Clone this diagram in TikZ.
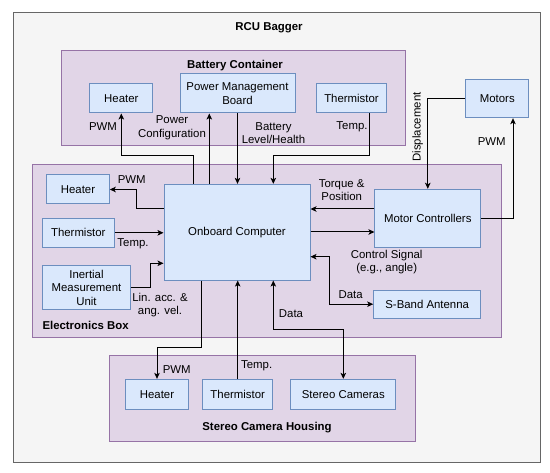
\documentclass[tikz,border=0pt]{standalone}
\usepackage{fontspec}
\setmainfont{Liberation Sans}
\usetikzlibrary{arrows.meta}
\definecolor{outerfill}{HTML}{F5F5F5}
\definecolor{outerdraw}{HTML}{666666}
\definecolor{contfill}{HTML}{E1D5E7}
\definecolor{contdraw}{HTML}{9673A6}
\definecolor{boxfill}{HTML}{DAE8FC}
\definecolor{boxdraw}{HTML}{6C8EBF}
\begin{document}
\begin{tikzpicture}[x=1pt,y=-1pt,
  every node/.style={font=\fontsize{11.4}{13.6}\selectfont},
  outerbox/.style={draw=outerdraw,fill=outerfill,line width=1pt,inner sep=0pt},
  contbox/.style={draw=contdraw,fill=contfill,line width=1pt,inner sep=0pt},
  bluebox/.style={draw=boxdraw,fill=boxfill,line width=1pt,inner sep=0pt,align=center},
  lbl/.style={inner sep=0pt,align=center},
  ttl/.style={inner sep=0pt,font=\fontsize{11.4}{13.6}\selectfont\bfseries},
  conn/.style={line width=1pt,draw=black},
  arr/.style={conn,-{Stealth[length=6pt,width=5.5pt,inset=1.5pt]}},
  darr/.style={conn,{Stealth[length=6pt,width=5.5pt,inset=1.5pt]}-{Stealth[length=6pt,width=5.5pt,inset=1.5pt]}}]
\useasboundingbox (0,0) rectangle (550,473);

% containers
\node[outerbox,minimum width=526.7pt,minimum height=449.6pt] (outer) at (276.65,237.5) {};
\node[ttl] (tRCU) at (269,27.5) {RCU Bagger};
\node[contbox,minimum width=343.7pt,minimum height=95.3pt] (battery) at (233.15,98.35) {};
\node[ttl] (tBat) at (235,65.5) {Battery Container};
\node[contbox,minimum width=469.4pt,minimum height=172.3pt] (ebox) at (267,251.15) {};
\node[ttl,anchor=west] (tEbox) at (42.3,325.7) {Electronics Box};
\node[contbox,minimum width=306.4pt,minimum height=86pt] (shouse) at (262.5,398.7) {};
\node[ttl] (tSh) at (267,427.3) {Stereo Camera Housing};

% battery container boxes
\node[bluebox,minimum width=62.7pt,minimum height=29pt] (hb) at (121.3,98.5) {Heater};
\node[bluebox,minimum width=115pt,minimum height=39pt] (pmb) at (237.5,93.5) {Power Management\\Board};
\node[bluebox,minimum width=70.4pt,minimum height=29pt] (thb) at (351.5,98.5) {Thermistor};
\node[bluebox,minimum width=63.3pt,minimum height=38.4pt] (mot) at (497.3,98.5) {Motors};

% electronics box
\node[bluebox,minimum width=62.6pt,minimum height=29pt] (he) at (78,189.5) {Heater};
\node[bluebox,minimum width=146pt,minimum height=95.7pt] (OC) at (237,232.2) {Onboard Computer};
\node[bluebox,minimum width=72pt,minimum height=29pt] (te) at (78.3,232.8) {Thermistor};
\node[bluebox,minimum width=88.4pt,minimum height=44.3pt] (imu) at (86.5,287.8) {Inertial\\Measurement\\Unit};
\node[bluebox,minimum width=105.7pt,minimum height=58pt] (mc) at (427.8,218.3) {Motor Controllers};
\node[bluebox,minimum width=107pt,minimum height=28.3pt] (sb) at (427.2,304.2) {S-Band Antenna};

% stereo camera housing
\node[bluebox,minimum width=62.6pt,minimum height=29.7pt] (hs) at (157,394.2) {Heater};
\node[bluebox,minimum width=70pt,minimum height=29.7pt] (ts) at (237.7,394.2) {Thermistor};
\node[bluebox,minimum width=105.3pt,minimum height=29.7pt] (sc) at (343.3,394.2) {Stereo Cameras};

% connectors
\draw[arr] (OC.north -| 193.3,0) |- (hb.south |- 0,155.7) -- (hb.south);
\draw[arr] (OC.north -| 209.3,0) -- (pmb.south -| 209.3,0);
\draw[arr] (pmb.south) -- (OC.north -| pmb.south);
\draw[arr] (thb.south -| 369.3,0) -- (369.3,155.7) -- (273.3,155.7) -- (OC.north -| 273.3,0);
\draw[arr] (mot.west) -| (mc.north);
\draw[arr] (mc.east) -| (mot.south -| 513,0);
\draw[arr] (OC.west |- 0,208.3) -- (136.7,208.3) |- (he.east);
\draw[arr] (te.east) -- (OC.west |- te.east);
\draw[arr] (imu.east) -- (150,287.8) |- (OC.west |- 0,263.3);
\draw[arr] (mc.west |- 0,209) -- (OC.east |- 0,209);
\draw[arr] (OC.east |- 0,232) -- (mc.west |- 0,232);
\draw[darr] (OC.east |- 0,256.7) -- (329.3,256.7) |- (sb.west);
\draw[arr] (OC.south -| 201,0) -- (201,347.3) -| (hs.north);
\draw[arr] (ts.north) -- (OC.south -| ts.north);
\draw[darr] (OC.south -| 273.3,0) -- (273.3,330) -| (sc.north);

% labels
\node[lbl] (l1) at (103,127) {PWM};
\node[lbl] (l2) at (172,128) {Power\\Configuration};
\node[lbl] (l3) at (273.5,133) {Battery\\Level/Health};
\node[lbl] (l4) at (352,127) {Temp.};
\node[lbl,rotate=90] (l5) at (417.7,127) {Displacement};
\node[lbl] (l6) at (491.7,141.7) {PWM};
\node[lbl] (l7) at (131.7,180) {PWM};
\node[lbl] (l8) at (133,243.3) {Temp.};
\node[lbl] (l9) at (160,305) {Lin. acc. \&\\ang. vel.};
\node[lbl] (l10) at (341.7,190) {Torque \&\\Position};
\node[lbl] (l11) at (386.7,262) {Control Signal\\(e.g., angle)};
\node[lbl] (l12) at (350.7,295) {Data};
\node[lbl] (l13) at (291,314) {Data};
\node[lbl] (l14) at (176.7,370) {PWM};
\node[lbl] (l15) at (256.7,366) {Temp.};
\end{tikzpicture}
\end{document}
